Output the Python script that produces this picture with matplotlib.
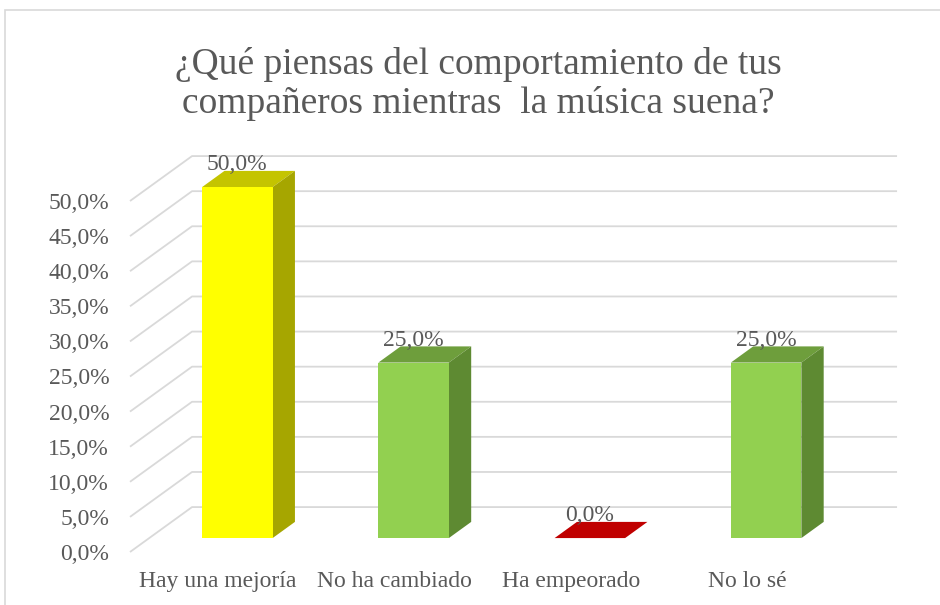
import matplotlib
matplotlib.use("Agg")
import matplotlib.pyplot as plt
from matplotlib.patches import Polygon, Rectangle

plt.rcParams['font.family'] = ['Liberation Serif', 'DejaVu Serif']

# data
categories = ["Hay una mejoría", "No ha cambiado", "Ha empeorado", "No lo sé"]
values = [50.0, 25.0, 0.0, 25.0]
front_colors = ["#FFFF00", "#92D050", "#C00000", "#92D050"]
side_colors = ["#A6A600", "#5E8A32", "#8C0000", "#5E8A32"]
top_colors = ["#C4C400", "#6E9E3C", "#C00000", "#6E9E3C"]
yticks = [0, 5, 10, 15, 20, 25, 30, 35, 40, 45, 50]
title = "¿Qué piensas del comportamiento de tus\ncompañeros mientras  la música suena?"

text_color = "#595959"
grid_color = "#D9D9D9"

# oblique depth offset (data units) for the 3d look
DX, DY = 0.352, 6.4
f0, f1 = 0.31, 0.67
width = 0.40

fig = plt.figure(figsize=(9.4, 6.05), dpi=100)
ax = fig.add_axes([130 / 940, 53 / 605, 705 / 940, 351 / 605])
ax.set_xlim(-0.5, len(categories) - 0.5)
ax.set_ylim(0, 50)
for s in ax.spines.values():
    s.set_visible(False)
ax.patch.set_visible(False)

# back wall + floor gridlines
x0, x1 = -0.5, len(categories) - 0.5
for t in yticks:
    ax.plot([x0, x0 + DX, x1 + DX], [t, t + DY, t + DY], color=grid_color,
            lw=1.3, clip_on=False, zorder=1, solid_capstyle='butt')

def P(x, y, f):
    return (x + f * DX, y + f * DY)

for i, v in enumerate(values):
    xl, xr = i - width / 2, i + width / 2
    top = Polygon([P(xl, v, f0), P(xr, v, f0), P(xr, v, f1), P(xl, v, f1)],
                  closed=True, fc=top_colors[i], ec='none', clip_on=False, zorder=3)
    ax.add_patch(top)
    if v > 0:
        side = Polygon([P(xr, 0, f0), P(xr, 0, f1), P(xr, v, f1), P(xr, v, f0)],
                       closed=True, fc=side_colors[i], ec='none', clip_on=False, zorder=3)
        front = Polygon([P(xl, 0, f0), P(xr, 0, f0), P(xr, v, f0), P(xl, v, f0)],
                        closed=True, fc=front_colors[i], ec='none', clip_on=False, zorder=4)
        ax.add_patch(side)
        ax.add_patch(front)
    lx, ly = P(i, v, f0)
    ax.annotate(f"{v:.1f}%".replace(".", ","), (lx, ly), xytext=(0, 16),
                textcoords="offset points", ha="center", va="center",
                fontsize=17, color=text_color, zorder=6, annotation_clip=False)

ax.set_yticks(yticks)
ax.set_yticklabels([f"{t:.1f}%".replace(".", ",") for t in yticks])
ax.set_xticks(range(len(categories)))
ax.set_xticklabels(categories)
ax.tick_params(axis='y', length=0, pad=15, labelsize=17, labelcolor=text_color)
ax.tick_params(axis='x', length=0, pad=14, labelsize=17, labelcolor=text_color)

fig.text(478 / 940, 1 - 84 / 605, title, ha="center", va="center",
         fontsize=27, color=text_color, linespacing=1.18)

# chart border
fig.patches.append(Rectangle((5 / 940, -0.1), 1.1, 1 - 10 / 605 + 0.1,
                             transform=fig.transFigure, fill=False,
                             ec=grid_color, lw=1.2))

fig.savefig("out.png", dpi=100)
